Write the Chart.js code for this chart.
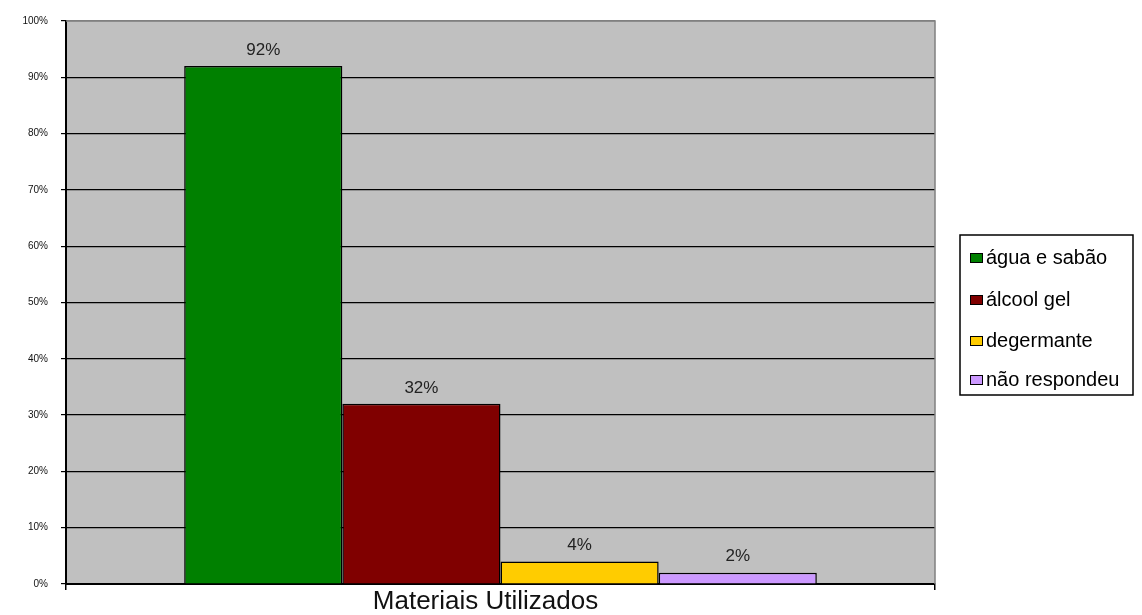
<!DOCTYPE html>
<html>
<head>
<meta charset="utf-8">
<script src="https://cdn.jsdelivr.net/npm/chart.js@4.4.1/dist/chart.umd.min.js"></script>
<style>
html,body{margin:0;padding:0;background:#fff;}
#wrap{width:1142px;height:615px;position:relative;}
</style>
</head>
<body>
<div id="wrap"><canvas id="c" width="1142" height="615"></canvas></div>
<script>
const categories = ['Materiais Utilizados'];
const seriesNames = ['água e sabão', 'álcool gel', 'degermante', 'não respondeu'];
const seriesValues = [92, 32, 4, 2];
const seriesColors = ['#008000', '#800000', '#ffcc00', '#cc99ff'];
const yTicks = [0, 10, 20, 30, 40, 50, 60, 70, 80, 90, 100];

const FONT = '"Liberation Sans", Arial, sans-serif';

const datasets = seriesNames.map((name, i) => ({
  label: name,
  data: [seriesValues[i]],
  backgroundColor: seriesColors[i],
  borderColor: '#000',
  borderWidth: 1.5,
  borderSkipped: 'bottom',
  categoryPercentage: 0.728,
  barPercentage: 1.0
}));

const bgPlugin = {
  id: 'bg',
  beforeDraw(chart) {
    const {ctx, chartArea: a} = chart;
    ctx.save();
    ctx.fillStyle = '#fff';
    ctx.fillRect(0, 0, chart.width, chart.height);
    ctx.fillStyle = '#c0c0c0';
    ctx.fillRect(a.left, a.top, a.right - a.left, a.bottom - a.top);
    ctx.restore();
  },
  afterDraw(chart) {
    const {ctx, chartArea: a} = chart;
    ctx.save();
    ctx.strokeStyle = '#808080';
    ctx.lineWidth = 1.5;
    ctx.beginPath();
    ctx.moveTo(a.left, a.top);
    ctx.lineTo(a.right, a.top);
    ctx.lineTo(a.right, a.bottom);
    ctx.stroke();
    ctx.restore();
  }
};

const labelPlugin = {
  id: 'vlabels',
  afterDatasetsDraw(chart) {
    const {ctx} = chart;
    ctx.save();
    ctx.font = '17px ' + FONT;
    ctx.fillStyle = '#222';
    ctx.textAlign = 'center';
    ctx.textBaseline = 'middle';
    chart.data.datasets.forEach((ds, i) => {
      const bar = chart.getDatasetMeta(i).data[0];
      ctx.fillText(ds.data[0] + '%', bar.x, bar.y - 16);
    });
    ctx.restore();
  }
};

const legendPlugin = {
  id: 'boxLegend',
  afterDraw(chart) {
    const {ctx} = chart;
    const x0 = 960, y0 = 235, w = 173, h = 160;
    ctx.save();
    ctx.fillStyle = '#fff';
    ctx.fillRect(x0, y0, w, h);
    ctx.strokeStyle = '#000';
    ctx.lineWidth = 1.5;
    ctx.strokeRect(x0, y0, w, h);
    const rows = [258, 300, 341, 380];
    ctx.font = '20px ' + FONT;
    ctx.textBaseline = 'middle';
    ctx.textAlign = 'left';
    chart.data.datasets.forEach((ds, i) => {
      const cy = rows[i];
      ctx.fillStyle = ds.backgroundColor;
      ctx.fillRect(970, cy - 5, 13, 10);
      ctx.strokeStyle = '#000';
      ctx.lineWidth = 1;
      ctx.strokeRect(970.5, cy - 4.5, 12, 9);
      ctx.fillStyle = '#000';
      ctx.fillText(ds.label, 986, cy);
    });
    ctx.restore();
  }
};

new Chart(document.getElementById('c'), {
  type: 'bar',
  data: { labels: categories, datasets },
  options: {
    responsive: false,
    animation: false,
    devicePixelRatio: 1,
    layout: { padding: { left: 0, right: 207, top: 21, bottom: 0 } },
    plugins: { legend: { display: false }, tooltip: { enabled: false } },
    scales: {
      x: {
        grid: { offset: true, drawOnChartArea: false, color: '#000', tickLength: 6, lineWidth: 1.5 },
        border: { color: '#000', width: 2 },
        ticks: { color: '#111', font: { family: FONT, size: 26, lineHeight: 1 }, padding: -1, labelOffset: -15 },
        afterFit(s) { s.height = 31; }
      },
      y: {
        min: 0, max: 100,
        afterBuildTicks(s) { s.ticks = yTicks.map(v => ({ value: v })); },
        ticks: { color: '#111', font: { family: FONT, size: 10 }, padding: 13, callback: v => v + '%' },
        grid: {
          color: ctx => (ctx.tick && ctx.tick.value === 100) ? '#808080' : '#000',
          lineWidth: 1.2,
          tickLength: 5,
          tickColor: '#000'
        },
        border: { color: '#000', width: 2 },
        afterFit(s) { s.width = 66; }
      }
    }
  },
  plugins: [bgPlugin, labelPlugin, legendPlugin]
});
</script>
</body>
</html>
